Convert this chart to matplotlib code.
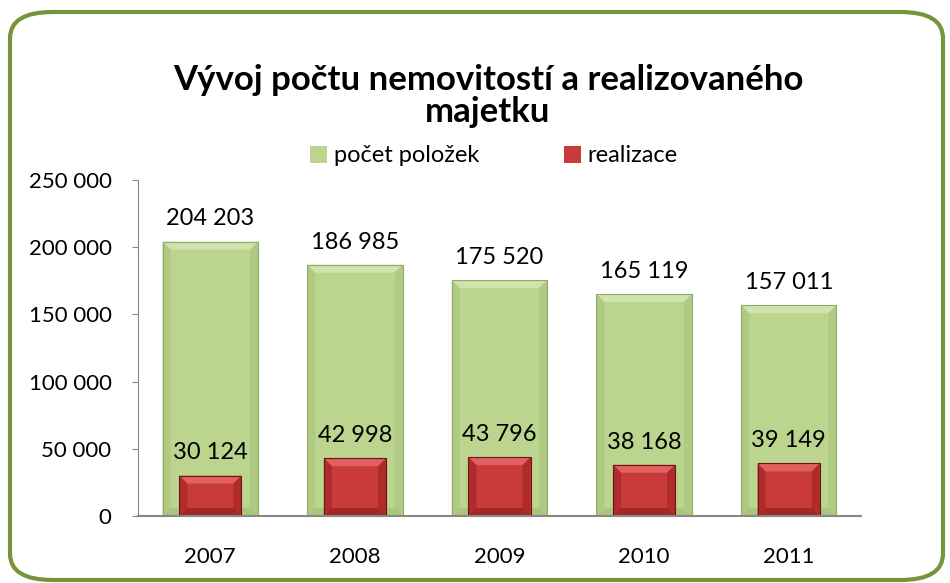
import matplotlib
matplotlib.use("Agg")
import matplotlib.pyplot as plt
from matplotlib.patches import FancyBboxPatch, Polygon
import numpy as np

years = ["2007", "2008", "2009", "2010", "2011"]
pocet = [204203, 186985, 175520, 165119, 157011]
realizace = [30124, 42998, 43796, 38168, 39149]
yticks = [0, 50000, 100000, 150000, 200000, 250000]

def fmt(v):
    return f"{v:,}".replace(",", " ")

plt.rcParams['font.family'] = ['Lato', 'DejaVu Sans']

W, H = 950, 583
fig = plt.figure(figsize=(W/100, H/100), dpi=100)

# frame
frame = FancyBboxPatch((10/W, 3/H), 933/W, 568/H,
                       boxstyle="round,pad=0,rounding_size=0.045",
                       transform=fig.transFigure, facecolor="white",
                       edgecolor="#77933C", linewidth=3, zorder=-5)
fig.patches.append(frame)

ax_l, ax_r, ax_t, ax_b = 138, 861, 180, 516
ax = fig.add_axes([ax_l/W, (H-ax_b)/H, (ax_r-ax_l)/W, (ax_b-ax_t)/H])
ax.set_zorder(2)
ax.set_facecolor("none")
x = np.arange(len(years))
ax.set_xlim(-0.5, 4.5)
ax.set_ylim(0, 250000)

px_x = 5.0 / (ax_r - ax_l)
px_y = 250000 / (ax_b - ax_t)

def bevel(b, top, side, bottom, edge, z, bv=8):
    x0, w, h = b.get_x(), b.get_width(), b.get_height()
    x1, y0, y1 = x0 + w, 0, h
    dx, dy = bv * px_x, bv * px_y
    polys = [
        ([(x0, y1), (x1, y1), (x1 - dx, y1 - dy), (x0 + dx, y1 - dy)], top),
        ([(x0, y0), (x0, y1), (x0 + dx, y1 - dy), (x0 + dx, y0 + dy)], side),
        ([(x1, y0), (x1, y1), (x1 - dx, y1 - dy), (x1 - dx, y0 + dy)], side),
        ([(x0, y0), (x1, y0), (x1 - dx, y0 + dy), (x0 + dx, y0 + dy)], bottom),
    ]
    for pts, c in polys:
        ax.add_patch(Polygon(pts, closed=True, facecolor=c, edgecolor="none",
                             zorder=z + 0.1, alpha=0.9))
    ax.add_patch(Polygon([(x0, y0), (x0, y1), (x1, y1), (x1, y0)], closed=True,
                         facecolor="none", edgecolor=edge, linewidth=0.8,
                         zorder=z + 0.2))

gb = ax.bar(x, pocet, width=0.66, color="#BBD58E", linewidth=0, zorder=2)
rb = ax.bar(x, realizace, width=0.43, color="#C93A3A", linewidth=0, zorder=3)
for b in gb:
    bevel(b, "#D2E5B2", "#AEC981", "#A9C47B", "#8FAA62", 2)
for b in rb:
    bevel(b, "#E26666", "#AE2B2B", "#A02424", "#6B1515", 3)

for xi, v in zip(x, pocet):
    ax.text(xi, v + 9000, fmt(v), ha="center", va="bottom", fontsize=17)
for xi, v in zip(x, realizace):
    ax.text(xi, v + 9000, fmt(v), ha="center", va="bottom", fontsize=17)

ax.set_yticks(yticks)
ax.set_yticklabels([fmt(v) for v in yticks], fontsize=16)
ax.set_xticks(x)
ax.set_xticklabels(years, fontsize=16)
ax.tick_params(axis="x", length=0, pad=22)
ax.tick_params(axis="y", length=4, color="#888888", pad=15, direction="out")
for s in ["top", "right"]:
    ax.spines[s].set_visible(False)
ax.spines["left"].set_color("#888888")
ax.spines["bottom"].set_color("#888888")
ax.spines["bottom"].set_linewidth(1.5)
ax.spines["bottom"].set_zorder(5)

fig.text(488/W, 1-80/H, "Vývoj počtu nemovitostí a realizovaného", ha="center",
         va="center", fontsize=25, fontweight="bold")
fig.text(488/W, 1-112/H, "majetku", ha="center", va="center", fontsize=25,
         fontweight="bold")

leg = fig.legend([gb, rb], ["počet položek", "realizace"], loc="center",
                 bbox_to_anchor=(494/W, 1-156/H), ncol=2, frameon=False,
                 fontsize=17, handlelength=0.7, handleheight=0.7,
                 columnspacing=3.6, handletextpad=0.3)

fig.savefig("out.png", dpi=100)
